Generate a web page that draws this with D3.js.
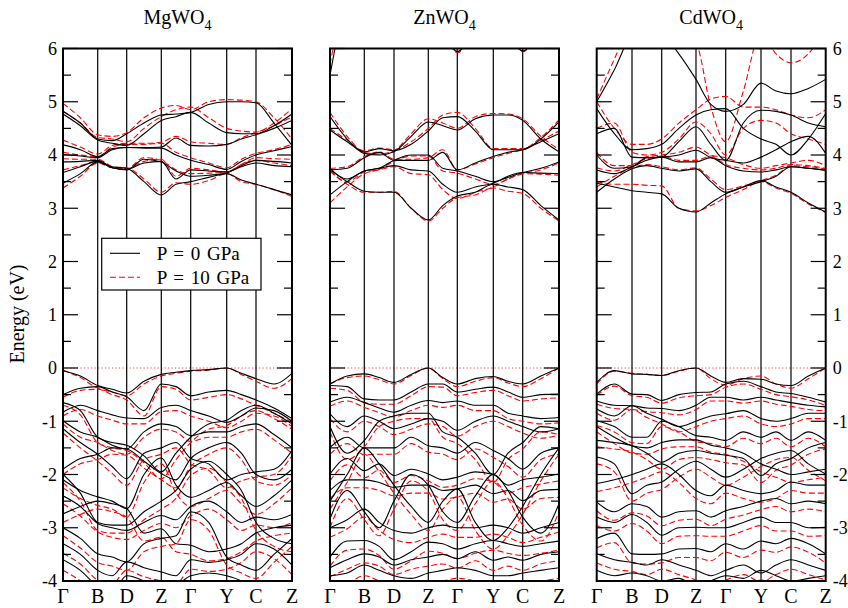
<!DOCTYPE html>
<html><head><meta charset="utf-8">
<script src="https://cdn.jsdelivr.net/npm/d3@7"></script>
<style>body{margin:0;background:#fff}</style>
</head><body><svg id="c" width="848" height="608" font-family="'Liberation Serif', 'Times New Roman', Times, serif"></svg>
<script>
// k-path distances (high-symmetry points) for each compound
const mgK = [0, 34.7, 63.7, 98.3, 127.7, 163.7, 193, 229];
const znK = [0, 34.3, 64, 98.3, 127.3, 163.3, 192.7, 229];
const cdK = [0, 35.3, 65, 99.3, 129, 164.3, 194.3, 229];
const kLabels = ["Γ","B","D","Z","Γ","Y","C","Z"];
const yTicks = [-4,-3,-2,-1,0,1,2,3,4,5,6];
const titles = ["MgWO","ZnWO","CdWO"];
const legendLabels = ["P = 0 GPa","P = 10 GPa"];
// energies (eV) sampled at: Γ, mid, B, mid, D, mid, Z, mid, Γ, mid, Y, mid, C, mid, Z
const mgBlack = [
[4.82,4.6,4.3,4.27,4.4,4.6,4.75,4.77,4.8,4.95,5.0,5.0,4.98,4.6,4.18],
[4.77,4.55,4.28,4.22,4.18,4.4,4.65,4.72,4.8,4.6,4.42,4.4,4.4,4.55,4.77],
[4.19,4.1,3.97,4.12,4.14,4.14,4.15,4.32,4.18,4.17,4.2,4.3,4.38,4.5,4.65],
[4.01,3.98,3.95,4.1,4.14,4.13,4.13,4.0,3.9,3.82,3.73,3.88,4.0,4.08,4.16],
[3.87,3.88,3.9,3.76,3.72,3.92,3.87,3.7,3.6,3.62,3.66,3.8,3.9,3.88,3.85],
[3.67,3.78,3.88,3.78,3.75,3.5,3.25,3.45,3.5,3.58,3.65,3.53,3.45,3.35,3.25],
[3.47,3.65,3.87,3.76,3.73,3.85,3.88,3.55,3.72,3.7,3.68,3.78,3.85,3.8,3.78],
[-0.05,-0.15,-0.33,-0.40,-0.47,-0.25,-0.12,-0.08,-0.05,-0.03,0.0,-0.1,-0.2,-0.3,-0.1],
[-0.5,-0.38,-0.35,-0.45,-0.54,-0.8,-0.3,-0.35,-0.52,-0.45,-0.42,-0.5,-0.6,-0.75,-0.95],
[-0.83,-0.7,-0.8,-0.88,-0.94,-0.95,-0.74,-0.7,-0.8,-0.9,-1.02,-0.9,-0.75,-0.8,-1.0],
[-0.99,-1.2,-1.3,-1.45,-1.52,-1.2,-1.05,-1.1,-1.27,-1.2,-1.2,-1.1,-1.05,-1.25,-1.5],
[-1.14,-1.4,-1.62,-1.85,-2.08,-1.6,-1.5,-1.4,-1.7,-1.8,-2.1,-2.0,-1.95,-1.9,-1.55],
[-1.9,-1.7,-1.62,-1.5,-1.52,-1.75,-1.98,-2.1,-1.7,-1.5,-1.4,-1.6,-2.0,-2.1,-1.9],
[-2.1,-2.3,-2.42,-2.5,-2.64,-2.0,-1.69,-2.2,-2.43,-2.3,-2.15,-2.4,-2.6,-2.4,-2.1],
[-2.4,-2.6,-2.92,-3.0,-3.05,-2.9,-2.77,-2.85,-2.6,-2.5,-2.7,-2.9,-2.8,-2.85,-2.75],
[-2.74,-2.6,-2.5,-2.55,-2.64,-3.1,-3.02,-3.3,-3.33,-3.45,-3.4,-3.3,-3.1,-3.0,-2.95],
[-3.0,-3.2,-3.49,-3.55,-3.64,-3.3,-3.2,-3.15,-2.7,-2.9,-3.55,-3.7,-3.8,-3.5,-3.2],
[-3.3,-3.5,-3.8,-3.9,-3.64,-3.75,-3.83,-3.9,-3.6,-3.65,-3.6,-3.5,-3.3,-3.4,-3.7],
[-3.6,-3.8,-4.1,-4.2,-3.9,-4.0,-4.2,-4.1,-3.9,-3.85,-3.9,-4.0,-4.2,-4.0,-4.3],
[-2.0,-2.35,-2.9,-2.95,-2.95,-2.7,-2.5,-2.3,-1.9,-1.75,-2.0,-2.3,-2.9,-3.2,-3.3],
[-0.65,-0.8,-1.3,-1.4,-1.45,-1.65,-1.95,-1.6,-1.3,-1.05,-0.98,-0.8,-0.7,-0.85,-1.05]
];
const mgRed = [
[4.97,4.7,4.38,4.35,4.42,4.7,4.88,4.93,4.85,5.0,5.04,5.03,5.0,4.7,4.3],
[4.82,4.6,4.33,4.3,4.25,4.5,4.72,4.85,4.9,4.7,4.5,4.45,4.43,4.6,4.87],
[4.28,4.15,4.02,4.18,4.22,4.22,4.24,4.35,4.25,4.22,4.2,4.32,4.42,4.55,4.72],
[4.05,4.0,3.97,4.15,4.2,4.2,4.22,4.05,3.95,3.85,3.76,3.92,4.03,4.1,4.2],
[3.93,3.92,3.92,3.78,3.74,3.95,3.9,3.72,3.65,3.66,3.68,3.82,3.95,3.93,3.92],
[3.72,3.8,3.88,3.78,3.76,3.55,3.3,3.48,3.45,3.52,3.65,3.5,3.45,3.35,3.22],
[3.38,3.6,3.85,3.76,3.74,3.88,3.92,3.6,3.75,3.72,3.68,3.82,3.9,3.85,3.8],
[-0.04,-0.18,-0.38,-0.45,-0.52,-0.3,-0.15,-0.1,-0.06,-0.04,0.0,-0.12,-0.25,-0.38,-0.2],
[-0.55,-0.42,-0.4,-0.5,-0.6,-0.9,-0.35,-0.4,-0.6,-0.55,-0.5,-0.58,-0.7,-0.85,-1.02],
[-0.9,-0.78,-0.9,-0.98,-1.05,-1.05,-0.82,-0.8,-0.9,-1.0,-1.12,-1.0,-0.85,-0.9,-1.1],
[-1.05,-1.3,-1.4,-1.55,-1.62,-1.3,-1.15,-1.2,-1.38,-1.3,-1.3,-1.2,-1.15,-1.35,-1.6],
[-1.22,-1.5,-1.75,-1.98,-2.2,-1.72,-1.62,-1.5,-1.8,-1.92,-2.25,-2.12,-2.05,-2.0,-1.65],
[-2.0,-1.8,-1.72,-1.62,-1.64,-1.88,-2.1,-2.25,-1.85,-1.62,-1.5,-1.72,-2.12,-2.2,-2.0],
[-2.25,-2.45,-2.58,-2.65,-2.8,-2.15,-1.8,-2.35,-2.6,-2.45,-2.3,-2.55,-2.75,-2.55,-2.25],
[-2.55,-2.78,-3.08,-3.18,-3.22,-3.05,-2.92,-3.0,-2.78,-2.65,-2.85,-3.05,-2.95,-3.0,-2.9],
[-2.9,-2.75,-2.65,-2.7,-2.8,-3.25,-3.18,-3.45,-3.5,-3.62,-3.58,-3.45,-3.25,-3.15,-3.1],
[-3.15,-3.38,-3.65,-3.72,-3.8,-3.45,-3.35,-3.3,-2.85,-3.05,-3.7,-3.85,-3.95,-3.65,-3.35],
[-3.48,-3.68,-3.98,-4.05,-3.8,-3.92,-4.0,-4.05,-3.78,-3.82,-3.78,-3.65,-3.45,-3.58,-3.88],
[-3.8,-4.0,-4.3,-4.4,-4.1,-4.2,-4.4,-4.3,-4.1,-4.05,-4.1,-4.2,-4.4,-4.2,-4.5],
[-2.15,-2.5,-3.05,-3.1,-3.1,-2.85,-2.65,-2.45,-2.02,-1.88,-2.15,-2.45,-3.05,-3.35,-3.45],
[-0.7,-0.88,-1.4,-1.5,-1.55,-1.78,-2.08,-1.72,-1.4,-1.15,-1.08,-0.9,-0.8,-0.95,-1.15]
];
const znBlack = [
[4.72,4.3,4.03,4.0,4.06,4.35,4.62,4.55,4.47,4.68,4.75,4.75,4.65,4.3,4.06],
[4.47,4.25,4.06,4.12,4.08,4.2,4.45,4.7,4.72,4.45,4.1,4.1,4.1,4.3,4.62],
[3.72,3.75,3.95,4.05,3.9,3.9,3.9,4.05,3.72,3.85,3.97,4.05,4.1,4.25,4.4],
[3.75,3.55,3.7,3.75,3.9,4.0,4.0,3.75,3.7,3.6,3.5,3.58,3.67,3.75,3.87],
[3.25,3.5,3.7,3.75,3.8,3.72,3.7,3.45,3.3,3.4,3.47,3.6,3.67,3.66,3.65],
[3.72,3.5,3.32,3.3,3.3,3.0,2.78,3.05,3.23,3.3,3.45,3.4,3.35,3.05,2.78],
[5.5,6.8,7,7,7,7,7,7,7,7,7,7,7,7,7],
[7,7,7,7,7,7,7,6.4,5.94,6.4,7,6.4,5.95,6.4,7],
[-0.3,-0.15,-0.11,-0.18,-0.27,-0.12,0.0,-0.18,-0.3,-0.2,-0.16,-0.25,-0.3,-0.15,0.0],
[-0.33,-0.35,-0.58,-0.6,-0.6,-0.45,-0.3,-0.3,-0.45,-0.4,-0.36,-0.45,-0.55,-0.5,-0.49],
[-0.64,-0.55,-0.65,-0.75,-0.83,-0.7,-0.61,-0.65,-0.62,-0.7,-0.7,-0.85,-0.9,-0.95,-0.93],
[-0.86,-1.1,-0.9,-1.0,-1.14,-1.05,-0.95,-1.0,-1.17,-1.0,-0.9,-1.0,-1.1,-1.2,-1.14],
[-1.1,-1.6,-1.36,-1.0,-0.9,-0.85,-0.85,-1.2,-1.3,-1.6,-2.0,-1.6,-1.4,-1.1,-1.14],
[-1.49,-1.3,-1.5,-1.5,-1.5,-1.3,-1.46,-1.5,-1.6,-1.4,-1.55,-1.7,-1.9,-1.6,-1.5],
[-1.99,-1.7,-1.93,-1.8,-2.02,-1.9,-1.99,-2.1,-2.05,-1.95,-2.0,-2.2,-2.1,-2.05,-1.99],
[-2.3,-2.1,-2.1,-2.15,-2.24,-2.2,-2.2,-2.3,-2.27,-2.2,-2.36,-2.3,-2.49,-2.3,-2.28],
[-2.83,-2.3,-2.7,-3.0,-2.5,-2.0,-2.2,-2.7,-2.9,-2.4,-2.0,-2.3,-2.8,-3.1,-2.55],
[-3.0,-2.85,-2.65,-2.9,-3.05,-3.1,-3.0,-2.95,-3.0,-3.0,-2.95,-3.0,-3.1,-3.0,-2.9],
[-3.55,-3.25,-3.24,-3.35,-3.6,-3.45,-3.27,-3.3,-3.4,-3.3,-3.24,-3.3,-3.35,-3.3,-3.25],
[-3.75,-3.6,-3.49,-3.55,-3.7,-3.6,-3.55,-3.5,-3.58,-3.45,-3.61,-3.55,-3.61,-3.5,-3.45],
[-3.9,-3.85,-3.7,-3.8,-3.9,-3.95,-3.85,-3.8,-3.75,-3.8,-3.9,-3.9,-3.85,-3.8,-3.75],
[-2.5,-2.0,-1.5,-1.8,-2.2,-2.6,-2.9,-2.5,-2.27,-2.9,-3.24,-3.0,-2.6,-2.0,-1.5]
];
const znRed = [
[4.8,4.35,4.05,4.02,4.08,4.4,4.68,4.6,4.5,4.72,4.78,4.77,4.68,4.35,4.1],
[4.5,4.28,4.08,4.13,4.1,4.25,4.5,4.75,4.8,4.5,4.12,4.12,4.12,4.33,4.66],
[3.75,3.78,3.97,4.06,3.92,3.92,3.95,4.1,3.72,3.83,3.95,4.03,4.1,4.27,4.45],
[3.7,3.5,3.68,3.73,3.88,3.98,3.98,3.7,3.66,3.55,3.45,3.55,3.65,3.72,3.85],
[3.1,3.4,3.65,3.72,3.78,3.65,3.63,3.35,3.18,3.3,3.4,3.55,3.65,3.64,3.62],
[3.7,3.45,3.3,3.3,3.32,3.0,2.76,3.0,3.2,3.25,3.38,3.32,3.28,3.0,2.76],
[5.7,6.9,7,7,7,7,7,7,7,7,7,7,7,7,7],
[7,7,7,7,7,7,7,6.4,5.92,6.4,7,6.4,5.94,6.4,7],
[-0.3,-0.18,-0.15,-0.22,-0.3,-0.14,0.0,-0.2,-0.35,-0.25,-0.18,-0.28,-0.35,-0.2,0.0],
[-0.38,-0.42,-0.65,-0.68,-0.68,-0.52,-0.35,-0.36,-0.52,-0.46,-0.42,-0.52,-0.62,-0.58,-0.56],
[-0.72,-0.62,-0.74,-0.84,-0.92,-0.8,-0.7,-0.74,-0.7,-0.8,-0.8,-0.95,-1.0,-1.05,-1.03],
[-0.95,-1.2,-1.0,-1.1,-1.25,-1.15,-1.05,-1.1,-1.28,-1.1,-1.0,-1.1,-1.22,-1.32,-1.26],
[-1.2,-1.72,-1.48,-1.1,-1.0,-0.95,-0.95,-1.3,-1.42,-1.72,-2.15,-1.72,-1.52,-1.2,-1.25],
[-1.62,-1.42,-1.63,-1.62,-1.62,-1.42,-1.58,-1.62,-1.72,-1.52,-1.68,-1.85,-2.05,-1.72,-1.62],
[-2.12,-1.82,-2.06,-1.92,-2.15,-2.02,-2.12,-2.24,-2.2,-2.08,-2.14,-2.35,-2.25,-2.18,-2.12],
[-2.45,-2.25,-2.25,-2.3,-2.4,-2.35,-2.35,-2.46,-2.42,-2.35,-2.52,-2.46,-2.65,-2.45,-2.43],
[-3.0,-2.45,-2.85,-3.15,-2.65,-2.12,-2.32,-2.85,-3.05,-2.55,-2.12,-2.45,-2.95,-3.25,-2.7],
[-3.18,-3.02,-2.8,-3.05,-3.22,-3.28,-3.18,-3.12,-3.18,-3.18,-3.12,-3.18,-3.28,-3.18,-3.08],
[-3.72,-3.42,-3.4,-3.52,-3.78,-3.62,-3.44,-3.48,-3.58,-3.48,-3.42,-3.48,-3.52,-3.48,-3.42],
[-3.92,-3.78,-3.66,-3.72,-3.88,-3.78,-3.72,-3.68,-3.76,-3.62,-3.8,-3.72,-3.8,-3.68,-3.62],
[-4.1,-4.05,-3.9,-4.0,-4.1,-4.15,-4.05,-4.0,-3.95,-4.0,-4.1,-4.1,-4.05,-4.0,-3.95],
[-2.65,-2.15,-1.62,-1.95,-2.35,-2.75,-3.05,-2.65,-2.42,-3.05,-3.4,-3.15,-2.75,-2.12,-1.62]
];
const cdBlack = [
[5.0,5.6,6.3,6.5,6.3,5.9,5.42,4.95,4.82,4.95,5.35,5.2,5.15,5.25,5.42],
[4.87,4.4,4.1,4.12,4.2,4.5,4.75,4.85,4.87,4.5,4.3,4.2,4.0,4.3,4.78],
[4.4,4.5,3.96,3.95,3.96,4.25,4.53,4.2,3.9,4.6,4.84,4.82,4.75,4.6,4.53],
[4.0,3.75,3.78,3.95,3.96,4.0,4.09,3.95,3.9,3.85,3.96,4.1,4.25,4.35,4.03],
[3.72,3.65,3.78,3.9,3.96,3.87,3.87,3.95,3.8,3.7,3.68,3.72,3.78,3.75,3.71],
[3.47,3.4,3.33,3.3,3.27,3.0,2.93,3.1,3.27,3.4,3.52,3.4,3.3,3.1,2.93],
[3.3,3.55,3.74,3.8,3.75,3.7,3.74,3.5,3.3,3.4,3.5,3.6,3.78,3.75,3.72],
[-0.27,-0.05,-0.11,-0.12,-0.14,-0.05,0.0,-0.15,-0.27,-0.2,-0.21,-0.3,-0.33,-0.15,0.0],
[-0.49,-0.3,-0.49,-0.5,-0.61,-0.5,-0.46,-0.45,-0.3,-0.25,-0.35,-0.45,-0.48,-0.55,-0.64],
[-0.62,-0.7,-0.71,-0.75,-0.76,-0.8,-0.7,-0.55,-0.55,-0.6,-0.55,-0.6,-0.65,-0.7,-0.73],
[-0.77,-0.9,-0.71,-0.85,-0.96,-1.1,-1.0,-0.9,-0.86,-0.8,-0.95,-1.0,-0.95,-0.85,-0.85],
[-0.99,-1.1,-1.3,-1.3,-1.0,-1.1,-1.27,-1.3,-1.36,-1.2,-1.3,-1.2,-1.36,-1.2,-1.36],
[-1.36,-1.4,-1.46,-1.6,-1.77,-1.6,-1.55,-1.6,-1.64,-1.7,-2.02,-1.8,-1.7,-1.5,-1.4],
[-1.67,-1.8,-2.36,-2.2,-2.14,-1.9,-1.75,-1.9,-2.05,-1.9,-1.7,-1.6,-1.55,-1.8,-1.99],
[-2.17,-2.1,-2.0,-1.9,-1.8,-2.0,-2.3,-2.4,-2.2,-2.3,-2.36,-2.3,-2.14,-2.2,-2.2],
[-2.52,-2.7,-2.55,-2.6,-2.8,-2.7,-2.68,-2.8,-2.68,-2.6,-2.5,-2.45,-2.55,-2.5,-2.55],
[-2.8,-2.9,-2.75,-2.9,-3.14,-3.0,-2.99,-3.0,-3.0,-2.9,-2.8,-2.9,-2.9,-3.0,-2.99],
[-3.2,-3.1,-3.49,-3.5,-3.49,-3.4,-3.39,-3.45,-3.3,-3.4,-3.25,-3.3,-3.2,-3.3,-3.49],
[-3.49,-3.6,-3.65,-3.7,-3.6,-3.7,-3.8,-3.9,-3.8,-3.7,-3.85,-3.7,-3.6,-3.7,-3.8],
[-3.8,-3.9,-3.85,-3.9,-4.0,-3.95,-4.1,-4.0,-3.9,-3.95,-3.8,-3.9,-4.0,-3.95,-3.9],
[-1.1,-1.3,-1.46,-1.5,-1.4,-1.35,-1.35,-1.45,-1.5,-1.6,-1.8,-1.9,-2.0,-1.95,-1.9]
];
const cdRed = [
[5.05,5.8,6.5,6.7,6.5,6.3,6.1,4.9,4.25,5.2,6.3,5.9,5.73,5.9,6.4],
[5.0,4.5,4.2,4.2,4.3,4.6,4.85,5.05,5.1,4.9,4.9,4.85,4.75,4.7,4.85],
[4.5,4.6,4.05,4.0,4.05,4.3,4.62,4.4,4.0,4.5,4.65,4.6,4.4,4.3,4.2],
[4.05,3.8,3.8,3.97,4.0,4.05,4.15,4.0,3.95,3.82,3.75,3.8,3.85,3.9,3.8],
[3.76,3.7,3.82,3.93,3.98,3.9,3.9,3.98,3.82,3.75,3.72,3.75,3.82,3.8,3.75],
[3.5,3.45,3.45,3.43,3.42,3.0,2.95,3.05,3.2,3.35,3.5,3.38,3.28,3.08,2.92],
[3.4,3.6,3.76,3.82,3.78,3.72,3.76,3.55,3.35,3.42,3.52,3.62,3.8,3.78,3.74],
[-0.3,-0.06,-0.1,-0.12,-0.14,-0.06,0.0,-0.2,-0.32,-0.2,-0.15,-0.3,-0.38,-0.2,0.0],
[-0.52,-0.34,-0.52,-0.55,-0.66,-0.56,-0.52,-0.5,-0.36,-0.3,-0.4,-0.5,-0.54,-0.6,-0.7],
[-0.68,-0.76,-0.78,-0.82,-0.84,-0.88,-0.78,-0.62,-0.62,-0.66,-0.62,-0.68,-0.72,-0.78,-0.8],
[-0.85,-0.98,-0.78,-0.93,-1.05,-1.2,-1.1,-1.0,-0.95,-0.9,-1.05,-1.1,-1.05,-0.95,-0.95],
[-1.08,-1.2,-1.4,-1.42,-1.1,-1.2,-1.38,-1.42,-1.48,-1.32,-1.42,-1.32,-1.48,-1.32,-1.48],
[-1.48,-1.52,-1.58,-1.72,-1.9,-1.72,-1.68,-1.72,-1.78,-1.82,-2.15,-1.92,-1.82,-1.62,-1.52],
[-1.8,-1.95,-2.5,-2.35,-2.28,-2.05,-1.9,-2.05,-2.2,-2.05,-1.85,-1.72,-1.68,-1.92,-2.12],
[-2.32,-2.25,-2.15,-2.05,-1.95,-2.15,-2.45,-2.55,-2.35,-2.45,-2.52,-2.45,-2.3,-2.35,-2.35],
[-2.68,-2.86,-2.72,-2.78,-2.96,-2.86,-2.84,-2.96,-2.84,-2.76,-2.66,-2.6,-2.7,-2.65,-2.7],
[-2.96,-3.06,-2.92,-3.06,-3.3,-3.16,-3.15,-3.16,-3.16,-3.06,-2.96,-3.06,-3.06,-3.16,-3.15],
[-3.38,-3.28,-3.66,-3.68,-3.66,-3.56,-3.56,-3.62,-3.46,-3.56,-3.42,-3.46,-3.36,-3.46,-3.66],
[-3.66,-3.78,-3.82,-3.88,-3.78,-3.88,-3.98,-4.08,-3.98,-3.88,-4.02,-3.88,-3.78,-3.88,-3.98],
[-3.98,-4.08,-4.02,-4.08,-4.18,-4.12,-4.28,-4.18,-4.08,-4.12,-3.98,-4.08,-4.18,-4.12,-4.08],
[-1.2,-1.42,-1.6,-1.62,-1.52,-1.48,-1.48,-1.58,-1.62,-1.75,-1.95,-2.05,-2.15,-2.1,-2.05]
];

const panels = [
  {title: titles[0], k: mgK, black: mgBlack, red: mgRed, left: 63},
  {title: titles[1], k: znK, black: znBlack, red: znRed, left: 330},
  {title: titles[2], k: cdK, black: cdBlack, red: cdRed, left: 596.7}
];
const FONT = "'Liberation Serif', 'Times New Roman', Times, serif";
const W = 229, plotTop = 48.5, plotBottom = 581;
const svg = d3.select("#c");
const y = d3.scaleLinear().domain([-4, 6]).range([plotBottom, plotTop]);
const minorTicks = d3.range(-3.5, 6, 1);

panels.forEach((p, pi) => {
  const x = d3.scaleLinear().domain([0, p.k[p.k.length - 1]]).range([p.left, p.left + W]);
  const cols = [];
  p.k.forEach((v, i) => { cols.push(v); if (i < p.k.length - 1) cols.push((v + p.k[i + 1]) / 2); });
  const g = svg.append("g");
  const clipId = "clip" + pi;
  svg.append("clipPath").attr("id", clipId).append("rect")
    .attr("x", p.left).attr("y", plotTop).attr("width", W).attr("height", plotBottom - plotTop);
  g.append("line").attr("x1", p.left).attr("x2", p.left + W).attr("y1", y(0)).attr("y2", y(0))
    .attr("stroke", "#ff4040").attr("stroke-width", 1).attr("stroke-dasharray", "1.2,2.3");
  g.selectAll(".vl").data(p.k.slice(1, -1)).enter().append("line")
    .attr("x1", d => x(d)).attr("x2", d => x(d)).attr("y1", plotTop).attr("y2", plotBottom)
    .attr("stroke", "#000").attr("stroke-width", 1.2);
  const line = d3.line().x((d, i) => x(cols[i])).y(d => y(d)).curve(d3.curveMonotoneX);
  const bands = g.append("g").attr("clip-path", `url(#${clipId})`);
  bands.selectAll(".r").data(p.red).enter().append("path")
    .attr("d", line).attr("fill", "none").attr("stroke", "#ff0000").attr("stroke-width", 1.1)
    .attr("stroke-dasharray", "6,3");
  bands.selectAll(".b").data(p.black).enter().append("path")
    .attr("d", line).attr("fill", "none").attr("stroke", "#000").attr("stroke-width", 1.1);
  [p.left, p.left + W].forEach((xe, side) => {
    const dir = side === 0 ? 1 : -1;
    g.selectAll(null).data(yTicks).enter().append("line")
      .attr("x1", xe).attr("x2", xe + dir * 15).attr("y1", d => y(d)).attr("y2", d => y(d))
      .attr("stroke", "#000").attr("stroke-width", 1.2);
    g.selectAll(null).data(minorTicks).enter().append("line")
      .attr("x1", xe).attr("x2", xe + dir * 8).attr("y1", d => y(d)).attr("y2", d => y(d))
      .attr("stroke", "#000").attr("stroke-width", 1.2);
  });
  g.append("rect").attr("x", p.left).attr("y", plotTop).attr("width", W).attr("height", plotBottom - plotTop)
    .attr("fill", "none").attr("stroke", "#000").attr("stroke-width", 2);
  g.selectAll(".xl").data(p.k).enter().append("text")
    .attr("x", d => x(d)).attr("y", 603).attr("text-anchor", "middle")
    .attr("font-family", FONT).attr("font-size", 20).text((d, i) => kLabels[i]);
  const t = g.append("text").attr("x", p.left + W / 2).attr("y", 24).attr("text-anchor", "middle")
    .attr("font-family", FONT).attr("font-size", 20);
  t.append("tspan").text(p.title);
  t.append("tspan").attr("font-size", 14).attr("dy", 6).text("4");
  if (pi === 0 || pi === 2) {
    const left = pi === 0;
    g.selectAll(".yl").data(yTicks).enter().append("text")
      .attr("x", left ? p.left - 6 : p.left + W + 7).attr("y", d => y(d)).attr("dy", "0.35em")
      .attr("text-anchor", left ? "end" : "start")
      .attr("font-family", FONT).attr("font-size", 18).text(d => d < 0 ? "-" + Math.abs(d) : d);
  }
});

svg.append("text").attr("transform", "translate(24,314) rotate(-90)").attr("text-anchor", "middle")
  .attr("font-family", FONT).attr("font-size", 20).text("Energy (eV)");

const lg = svg.append("g");
lg.append("rect").attr("x", 101.7).attr("y", 238.3).attr("width", 159.3).attr("height", 51.7)
  .attr("fill", "#fff").attr("stroke", "#000").attr("stroke-width", 1.2);
lg.append("line").attr("x1", 110).attr("x2", 140).attr("y1", 253.3).attr("y2", 253.3)
  .attr("stroke", "#000").attr("stroke-width", 1.1);
lg.append("line").attr("x1", 110).attr("x2", 140).attr("y1", 277.3).attr("y2", 277.3)
  .attr("stroke", "#ff0000").attr("stroke-width", 1.1).attr("stroke-dasharray", "6,3");
lg.selectAll(".lt").data(legendLabels).enter().append("text")
  .attr("x", 156.7).attr("y", (d, i) => 259.5 + i * 24)
  .attr("font-family", FONT).attr("font-size", 19)
  .attr("word-spacing", 2).text(d => d);
</script></body></html>
